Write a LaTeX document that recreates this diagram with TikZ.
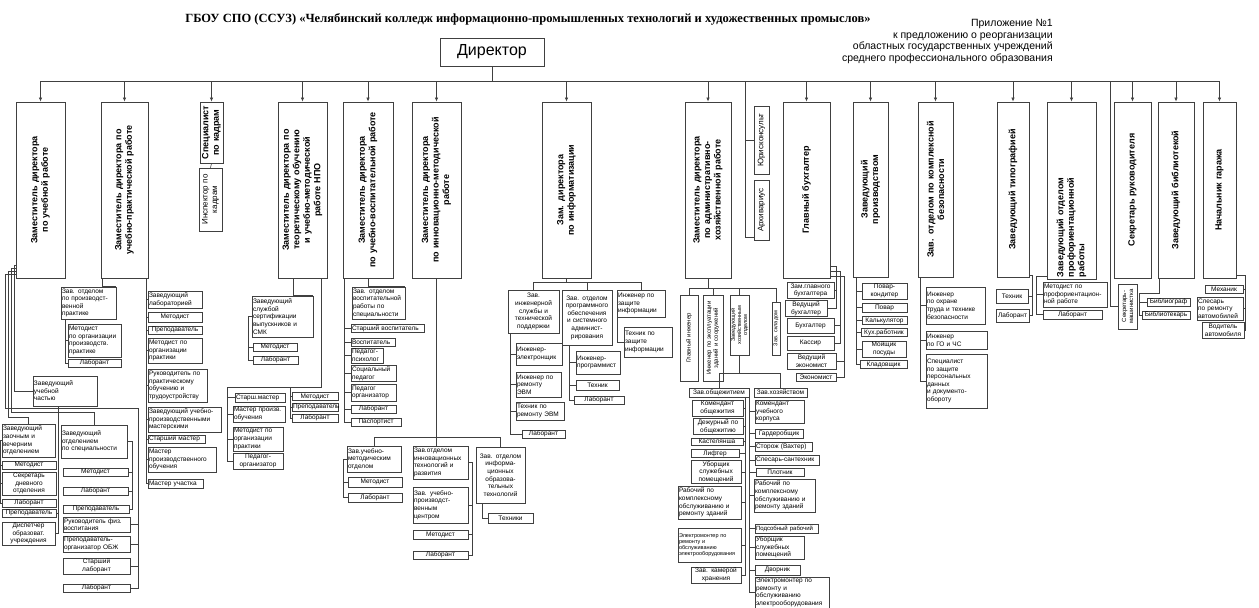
\documentclass[tikz,border=0pt]{standalone}
\usepackage{fontspec}
\setmainfont{Liberation Sans}
\newfontfamily\titlefont{Liberation Serif}
\usetikzlibrary{arrows.meta}

\tikzset{
    card/.style = {draw = black!75, inner sep = 1pt, align = center,
                   font = \fontsize{6.5}{7.6}\selectfont},
    lcard/.style = {align = left},
    topcard/.style = {line width = 0.9pt, font = \fontsize{9}{10.5}\selectfont\bfseries},
    sidecard/.style = {font = \fontsize{8}{9.5}\selectfont},
    smalltext/.style = {font = \fontsize{6}{7}\selectfont},
    tinytext/.style = {font = \fontsize{5.5}{6.2}\selectfont},
    link/.style = {draw = black!75},
    arrowdown/.style = {-{Latex[length = 4pt, width = 3.5pt]}},
}

% A box given by its corners (in pixels): name, x1, y1, x2, y2, text.
\newcommand{\hcard}[7][]{%
    \node[card, minimum width = {#5pt-#3pt}, minimum height = {#6pt-#4pt},
          text width = {#5pt-#3pt-2pt}, #1] (#2) at ({(#3+#5)/2}, {(#4+#6)/2}) {#7};}
% The same box with its text turned upright.
\newcommand{\vcard}[7][]{%
    \node[card, minimum width = {#5pt-#3pt}, minimum height = {#6pt-#4pt}, #1]
          (#2) at ({(#3+#5)/2}, {(#4+#6)/2}) {};
    \node[card, draw = none, rotate = 90, text width = {#6pt-#4pt-4pt}, #1]
          (#2-t) at (#2.center) {#7};}

\begin{document}
\begin{tikzpicture}[x = 1pt, y = -1pt, line width = 0.6pt]
    \useasboundingbox (0, 0) rectangle (1259, 608);

    % Heading and the note in the right corner.
    \node[font = \titlefont\bfseries\fontsize{12.5}{14}\selectfont] (title) at (528, 19)
        {ГБОУ СПО (ССУЗ) «Челябинский колледж информационно-промышленных технологий и художественных промыслов»};
    \node[anchor = north east, align = right, inner sep = 0pt,
          font = \fontsize{10.5}{11.7}\selectfont] (note) at (1053, 19)
        {Приложение №1\\к предложению о реорганизации\\областных государственных учреждений\\среднего профессионального образования};

    % Director.
    \node[draw = black!75, line width = 0.9pt, minimum width = 104pt, minimum height = 28pt,
          font = \fontsize{16}{18}\selectfont] (director) at (492, 52) {Директор};

    % First row of upright boxes.
    \vcard[topcard]{zamUch}{16}{102}{65}{278}{Заместитель директора\\по учебной работе}
    \vcard[topcard]{zamPrakt}{101}{102}{148}{278}{Заместитель директора по\\учебно-практической работе}
    \vcard[topcard]{kadry}{200}{102}{223}{163}{Специалист\\по кадрам}
    \vcard[sidecard]{inspKadry}{199}{168}{222}{231}{Инспектор по\\кадрам}
    \vcard[topcard]{zamNPO}{278}{102}{327}{278}{Заместитель директора по\\теоретическому обучению\\и учебно-методической\\работе НПО}
    \vcard[topcard]{zamVosp}{343}{102}{393}{278}{Заместитель директора\\по учебно-воспитательной работе}
    \vcard[topcard]{zamInnov}{412}{102}{461}{278}{Заместитель директора\\по инновационно-методической\\работе}
    \vcard[topcard]{zamInform}{542}{102}{591}{278}{Зам. директора\\по информатизации}
    \vcard[topcard]{zamAHR}{685}{102}{731}{278}{Заместитель директора\\по административно-\\хозяйственной работе}
    \vcard[sidecard]{yurist}{754}{106}{769}{174}{Юрисконсульт}
    \vcard[sidecard]{arhiv}{754}{180}{769}{240}{Архивариус}
    \vcard[topcard]{glBuh}{783}{102}{830}{278}{Главный бухгалтер}
    \vcard[topcard]{zavProizv}{853}{102}{888}{277}{Заведующий\\производством}
    \vcard[topcard]{zavBezop}{918}{102}{953}{277}{Зав. отделом по комплексной\\безопасности}
    \vcard[topcard]{zavTipogr}{997}{102}{1029}{277}{Заведующий типографией}
    \vcard[topcard, lcard]{zavProf}{1047}{102}{1096}{279}{Заведующий отделом\\профориентационной\\работы}
    \vcard[topcard]{sekrRuk}{1114}{102}{1151}{278}{Секретарь руководителя}
    \vcard[smalltext]{sekrMash}{1118}{284}{1137}{329}{Секретарь-\\машинистка}
    \vcard[topcard]{zavBibl}{1158}{102}{1194}{278}{Заведующий библиотекой}
    \vcard[topcard]{nachGar}{1203}{102}{1236}{278}{Начальник гаража}

    % Bus under the director and the arrows down.
    \draw[link] (director.south) -- ++(0, 15) coordinate (bus);
    \draw[link] (zamUch.north |- bus) -- (nachGar.north |- bus);
    \draw[link, arrowdown] (zamUch.north |- bus) -- (zamUch.north);
    \draw[link, arrowdown] (zamPrakt.north |- bus) -- (zamPrakt.north);
    \draw[link, arrowdown] (kadry.north |- bus) -- (kadry.north);
    \draw[link, arrowdown] (zamNPO.north |- bus) -- (zamNPO.north);
    \draw[link, arrowdown] (zamVosp.north |- bus) -- (zamVosp.north);
    \draw[link, arrowdown] (zamInnov.north |- bus) -- (zamInnov.north);
    \draw[link, arrowdown] (zamInform.north |- bus) -- (zamInform.north);
    \draw[link, arrowdown] (zamAHR.north |- bus) -- (zamAHR.north);
    \draw[link, arrowdown] (glBuh.north |- bus) -- (glBuh.north);
    \draw[link, arrowdown] (zavProizv.north |- bus) -- (zavProizv.north);
    \draw[link, arrowdown] (zavBezop.north |- bus) -- (zavBezop.north);
    \draw[link, arrowdown] (zavTipogr.north |- bus) -- (zavTipogr.north);
    \draw[link, arrowdown] (zavProf.north |- bus) -- (zavProf.north);
    \draw[link, arrowdown] (sekrRuk.north |- bus) -- (sekrRuk.north);
    \draw[link, arrowdown] (zavBibl.north |- bus) -- (zavBibl.north);
    \draw[link, arrowdown] (nachGar.north |- bus) -- (nachGar.north);

    % Plain branches off the bus.
    \coordinate (jur) at (745, 81);
    \coordinate (mash) at (1110, 81);
    \draw[link] (jur) |- ([yshift = 3pt]arhiv.south west);
    \draw[link] (jur |- yurist.west) -- (yurist.west);
    \draw[link] (mash) |- (sekrMash.west);
    \draw[link] (kadry.south) -- (inspKadry.north);

    % Teaching work.
    \hcard[lcard]{zavUchCh}{33}{376}{97}{406}{Заведующий\\учебной\\частью}
    \hcard[lcard]{zavZaoch}{2}{424}{55}{457}{Заведующий\\заочным и\\вечерним\\отделением}
    \hcard{metZaoch}{2}{461}{56}{469}{Методист}
    \hcard{sekrDn}{2}{472}{56}{495}{Секретарь\\дневного\\отделения}
    \hcard{labZaoch}{2}{499}{56}{507}{Лаборант}
    \hcard{prepZaoch}{2}{509}{56}{517}{Преподаватель}
    \hcard{dispetch}{2}{522}{55}{545}{Диспетчер\\образоват.\\учреждения}
    \hcard[lcard]{zavSpec}{61}{425}{127}{458}{Заведующий\\отделением\\по специальности}
    \hcard{metSpec}{63}{468}{128}{476}{Методист}
    \hcard{labSpec}{63}{487}{128}{495}{Лаборант}
    \hcard{prepSpec}{63}{505}{129}{513}{Преподаватель}
    \hcard[lcard]{rukFiz}{63}{517}{130}{532}{Руководитель физ.\\воспитания}
    \hcard[lcard]{prepObzh}{63}{536}{130}{552}{Преподаватель-\\организатор ОБЖ}
    \hcard{starLab}{63}{558}{130}{574}{Старший\\лаборант}
    \hcard{labObzh}{63}{584}{130}{592}{Лаборант}

    \draw[link] ([yshift = 13pt]zamUch.south west) -| ([xshift = -18pt]zavUchCh.west) -- (zavUchCh.west);
    \draw[link] ([yshift = 10pt]zamUch.south west) -| (11, 412) -| (zavSpec.north);
    \draw[link] ([yshift = 7pt]zamUch.south west) -| (8, 417) -| (zavZaoch.north);
    \draw[link] ([yshift = 4pt]zamUch.south west) -| (5, 408) -| ([xshift = 8pt]labObzh.east) -- (labObzh.east);
    \draw[link] (rukFiz.east) -- ++(8, 0) (prepObzh.east) -- ++(8, 0) (starLab.east) -- ++(8, 0);
    \draw[link] ([xshift = -7pt]zavUchCh.south) |- (dispetch.east) (prepZaoch.east) -- ++(2, 0);
    \draw[link] (zavZaoch.west) -- ++(-1.5, 0) |- (labZaoch.west)
        (metZaoch.west) -- ++(-1.5, 0) (sekrDn.west) -- ++(-1.5, 0);
    \draw[link] (zavSpec.east) -- ++(5, 0) |- (prepSpec.east)
        (metSpec.east) -- ++(4, 0) (labSpec.east) -- ++(4, 0);

    % Practical training.
    \hcard[lcard]{zavPraktOtd}{61}{287}{116}{319}{Зав. отделом\\по производст-\\венной\\практике}
    \hcard[lcard]{metPrakt}{68}{324}{121}{357}{Методист\\по организации\\производств.\\практике}
    \hcard{labPrakt}{68}{359}{121}{367}{Лаборант}
    \hcard[lcard]{zavLab}{148}{291}{202}{308}{Заведующий\\лабораторией}
    \hcard{metLab}{148}{312}{202}{322}{Методист}
    \hcard{prepLab}{148}{326}{202}{334}{Преподаватель}
    \hcard[lcard]{metOrgPr}{148}{338}{202}{363}{Методист по\\организации\\практики}
    \hcard[lcard]{rukPrakt}{148}{369}{207}{402}{Руководитель по\\практическому\\обучению и\\трудоустройству}
    \hcard[lcard]{zavMaster}{148}{407}{221}{432}{Заведующий учебно-\\производственными\\мастерскими}
    \hcard[lcard]{starMaster}{148}{435}{205}{443}{Старший мастер}
    \hcard[lcard]{masterPO}{148}{447}{216}{472}{Мастер\\производственного\\обучения}
    \hcard[lcard]{masterUch}{148}{479}{203}{488}{Мастер участка}

    \draw[link] (zamPrakt.south west) ++(2, 0) |- (zavPraktOtd.north east);
    \draw[link] (zavPraktOtd.south west) ++(5, 0) |- (labPrakt.west) (metPrakt.west) -- ++(-2, 0);
    \draw[link] (zamPrakt.south east) ++(-2, 0) |- (masterUch.west)
        (zavLab.west) -- ++(-2, 0) (metLab.west) -- ++(-2, 0) (prepLab.west) -- ++(-2, 0)
        (metOrgPr.west) -- ++(-2, 0) (rukPrakt.west) -- ++(-2, 0) (zavMaster.west) -- ++(-2, 0)
        (starMaster.west) -- ++(-2, 0) (masterPO.west) -- ++(-2, 0);

    % Theory and methods of NPO.
    \hcard[lcard]{zavSert}{252}{296}{313}{337}{Заведующий\\службой\\сертификации\\выпускников и\\СМК}
    \hcard{metSert}{253}{343}{297}{351}{Методист}
    \hcard{labSert}{253}{356}{298}{364}{Лаборант}
    \hcard[lcard]{starM}{235}{393}{285}{402}{Старш.мастер}
    \hcard[lcard]{masterPr}{233}{406}{285}{422}{Мастер произв.\\обучения}
    \hcard[lcard]{metOrg4}{233}{427}{283}{451}{Методист по\\организации\\практики}
    \hcard{pedOrg4}{233}{453}{283}{469}{Педагог-\\организатор}
    \hcard{met4}{292}{393}{338}{400}{Методист}
    \hcard{prep4}{292}{403}{338}{411}{Преподаватель}
    \hcard{lab4}{292}{414}{338}{422}{Лаборант}

    \draw[link] (zamNPO.south) ++(-9.5, 0) |- (zavSert.north east);
    \draw[link] (zavSert.west) -- ++(-3, 0) |- (labSert.west) (metSert.west) -- ++(-4, 0);
    \draw[link] (zamNPO.south) ++(18.5, 0) -- ++(0, 109) -| ([xshift = -5pt]pedOrg4.west) -- (pedOrg4.west);
    \draw[link] (starM.west) -- ++(-7, 0) (masterPr.west) -- ++(-5, 0) (metOrg4.west) -- ++(-5, 0);
    \draw[link] (290, 387) |- (lab4.west) (met4.west) -- ++(-2, 0) (prep4.west) -- ++(-2, 0);

    % Upbringing.
    \hcard[lcard]{zavVospOtd}{352}{287}{405}{319}{Зав. отделом\\воспитательной\\работы по\\специальности}
    \hcard[lcard]{starVosp}{351}{325}{424}{332}{Старший воспитатель}
    \hcard[lcard]{vosp}{351}{338}{395}{346}{Воспитатель}
    \hcard[lcard]{pedPsih}{351}{348}{383}{363}{Педагог-\\психолог}
    \hcard[lcard]{socPed}{351}{366}{396}{381}{Социальный\\педагог}
    \hcard[lcard]{pedOrg5}{351}{384}{396}{401}{Педагог\\организатор}
    \hcard{lab5}{351}{405}{396}{413}{Лаборант}
    \hcard{pasp}{351}{418}{401}{426}{Паспортист}

    \draw[link] (zamVosp.south) |- (zavVospOtd.north east);
    \draw[link] (zamVosp.south west) ++(2, 0) |- (pasp.west)
        (starVosp.west) -- ++(-6, 0) (vosp.west) -- ++(-6, 0) (pedPsih.west) -- ++(-6, 0)
        (socPed.west) -- ++(-6, 0) (pedOrg5.west) -- ++(-6, 0) (lab5.west) -- ++(-6, 0);

    % Innovation and methods.
    \hcard[lcard]{zavUMO}{347}{446}{401}{472}{Зав.учебно-\\методическим\\отделом}
    \hcard{metUMO}{348}{477}{402}{487}{Методист}
    \hcard{labUMO}{348}{493}{402}{502}{Лаборант}
    \hcard[lcard]{zavInnovOtd}{413}{446}{468}{479}{Зав.отделом\\инновационных\\технологий и\\развития}
    \hcard[lcard]{zavUPC}{413}{487}{468}{523}{Зав. учебно-\\производст-\\венным\\центром}
    \hcard{metUPC}{413}{530}{468}{539}{Методист}
    \hcard{labUPC}{413}{551}{468}{559}{Лаборант}
    \hcard{zavIOT}{476}{447}{525}{503}{Зав. отделом\\информа-\\ционных\\образова-\\тельных\\технологий}
    \hcard{tehIOT}{488}{513}{533}{523}{Техники}

    \draw[link] (zamInnov.south) -- ++(0, 159) coordinate (innov);
    \draw[link] (innov) -- (innov |- zavInnovOtd.north);
    \draw[link] (zavUMO.north) |- (innov) -| (zavIOT.north);
    \draw[link] (zavUMO.west) -- ++(-3, 0) |- (labUMO.west) (metUMO.west) -- ++(-4, 0);
    \draw[link] (zavInnovOtd.east) -- ++(4, 0) |- (labUPC.east)
        (zavUPC.east) -- ++(4, 0) (metUPC.east) -- ++(4, 0);
    \draw[link] (zavIOT.south west) ++(7, 0) |- (tehIOT.west);

    % Informatization.
    \hcard{zavIng}{508}{290}{559}{333}{Зав.\\инженерной\\службы и\\технической\\поддержки}
    \hcard{zavProg}{562}{290}{612}{345}{Зав. отделом\\программного\\обеспечения\\и системного\\админист-\\рирования}
    \hcard[lcard]{ingZI}{617}{290}{665}{317}{Инженер по\\защите\\информации}
    \hcard[lcard]{tehZI}{624}{327}{672}{357}{Техник по\\защите\\информации}
    \hcard[lcard]{ingEl}{516}{343}{562}{365}{Инженер-\\электронщик}
    \hcard[lcard]{ingEVM}{516}{372}{561}{397}{Инженер по\\ремонту\\ЭВМ}
    \hcard[lcard]{tehEVM}{516}{402}{564}{420}{Техник по\\ремонту ЭВМ}
    \hcard{lab7a}{522}{430}{565}{438}{Лаборант}
    \hcard[lcard]{ingProg}{576}{351}{620}{374}{Инженер-\\программист}
    \hcard{teh7}{576}{380}{619}{390}{Техник}
    \hcard{lab7b}{574}{396}{624}{404}{Лаборант}

    \draw[link] (zamInform.south) -- ++(0, 4) coordinate (inform);
    \draw[link] (zavIng.north) |- (inform) -| (ingZI.north);
    \draw[link] (inform -| zavProg.north) -- (zavProg.north);
    \draw[link] (ingZI.south west) ++(1, 0) |- (tehZI.west);
    \draw[link] (zavIng.south west) ++(3, 0) |- (lab7a.west)
        (ingEl.west) -- ++(-5, 0) (ingEVM.west) -- ++(-5, 0) (tehEVM.west) -- ++(-5, 0);
    \draw[link] (zavProg.south west) ++(8, 0) |- (lab7b.west)
        (ingProg.west) -- ++(-6, 0) (teh7.west) -- ++(-6, 0);

    % Administration and housekeeping.
    \vcard[smalltext]{glIng}{680}{295}{698}{381}{Главный инженер}
    \vcard[smalltext]{ingEkspl}{703}{295}{723}{381}{Инженер по эксплуатации\\зданий и сооружений}
    \vcard[tinytext]{zavHoz}{730}{295}{749}{355}{Заведующий\\хозяйственным\\отделом}
    \vcard[tinytext]{zavSklad}{772}{302}{780}{355}{Зав. складом}
    \hcard{zavObsh}{689}{388}{749}{397}{Зав.общежитием}
    \hcard{zavHozv}{754}{388}{807}{397}{Зав.хозяйством}
    \hcard{komObsh}{692}{400}{743}{416}{Комендант\\общежития}
    \hcard{dezh}{693}{419}{743}{434}{Дежурный по\\общежитию}
    \hcard{kastel}{691}{438}{743}{445}{Кастелянша}
    \hcard{lift}{691}{450}{739}{457}{Лифтер}
    \hcard{uborO}{691}{461}{741}{483}{Уборщик\\служебных\\помещений}
    \hcard[lcard]{rabO}{678}{486}{741}{519}{Рабочий по\\комплексному\\обслуживанию и\\ремонту зданий}
    \hcard[lcard, tinytext]{elO}{678}{528}{741}{562}{Электромонтер по\\ремонту и\\обслуживанию\\электрооборудования}
    \hcard{kamera}{691}{567}{741}{583}{Зав. камерой\\хранения}
    \hcard[lcard]{komUch}{755}{400}{804}{423}{Комендант\\учебного\\корпуса}
    \hcard{gard}{755}{429}{803}{438}{Гардеробщик}
    \hcard[lcard]{storozh}{755}{442}{812}{451}{Сторож (Вахтер)}
    \hcard[lcard]{slesar}{755}{455}{819}{465}{Слесарь-сантехник}
    \hcard{plot}{756}{468}{804}{476}{Плотник}
    \hcard[lcard]{rabH}{754}{479}{815}{512}{Рабочий по\\комплексному\\обслуживанию и\\ремонту зданий}
    \hcard[lcard, smalltext]{podsob}{755}{524}{818}{533}{Подсобный рабочий}
    \hcard[lcard]{uborH}{755}{536}{804}{559}{Уборщик\\служебных\\помещений}
    \hcard{dvor}{755}{565}{800}{575}{Дворник}
    \hcard[lcard]{elH}{755}{578}{829}{607}{Электромонтер по\\ремонту и\\обслуживанию\\электрооборудования}

    \draw[link] (zamAHR.south) -- ++(0, 10) coordinate (ahr);
    \draw[link] (glIng.north) |- (ahr) -| (zavSklad.north);
    \draw[link] (ahr -| ingEkspl.north) -- (ingEkspl.north);
    \draw[link] (ahr -| zavHoz.north) -- (zavHoz.north);
    \draw[link] (zavHoz.south) -- ++(0, 18) coordinate (hoz);
    \draw[link] (zavObsh.north) |- (hoz) -| (zavHozv.north);
    \draw[link] (zavObsh.south east) ++(-4, 0) |- (kamera.east)
        (komObsh.east) -- ++(2, 0) (dezh.east) -- ++(2, 0) (kastel.east) -- ++(2, 0)
        (lift.east) -- ++(6, 0) (uborO.east) -- ++(4, 0) (rabO.east) -- ++(4, 0) (elO.east) -- ++(4, 0);
    \draw[link] (zavHozv.south west) ++(-4, 0) |- (elH.west)
        (komUch.west) -- ++(-5, 0) (gard.west) -- ++(-5, 0) (storozh.west) -- ++(-5, 0)
        (slesar.west) -- ++(-5, 0) (plot.west) -- ++(-6, 0) (rabH.west) -- ++(-4, 0)
        (podsob.west) -- ++(-5, 0) (uborH.west) -- ++(-5, 0) (dvor.west) -- ++(-5, 0);

    % Accounts.
    \hcard{zamGlB}{787}{283}{834}{298}{Зам.главного\\бухгалтера}
    \hcard{vedB}{785}{301}{827}{316}{Ведущий\\бухгалтер}
    \hcard{buh}{787}{318}{834}{333}{Бухгалтер}
    \hcard{kassir}{787}{336}{834}{350}{Кассир}
    \hcard{vedEk}{787}{353}{836}{369}{Ведущий\\экономист}
    \hcard{ekon}{796}{373}{836}{381}{Экономист}

    \draw[link] ([yshift = 12pt]glBuh.south east) -- ++(6, 0) |- (vedB.east) (zamGlB.east) -- ++(2, 0);
    \draw[link] ([yshift = 7pt]glBuh.south east) -- ++(10, 0) |- (kassir.east) (buh.east) -- ++(6, 0);
    \draw[link] ([yshift = 2pt]glBuh.south east) -- ++(14, 0) |- (ekon.east) (vedEk.east) -- ++(8, 0);

    % Kitchen.
    \hcard{povK}{862}{283}{907}{299}{Повар-\\кондитер}
    \hcard{povar}{862}{303}{907}{312}{Повар}
    \hcard{kalk}{862}{317}{907}{324}{Калькулятор}
    \hcard{kuh}{861}{329}{907}{336}{Кух.работник}
    \hcard{moysh}{862}{341}{906}{357}{Мойщик\\посуды}
    \hcard{klad}{860}{361}{907}{368}{Кладовщик}

    \draw[link] (zavProizv.south west) ++(4, 0) |- (klad.west)
        (povK.west) -- ++(-5, 0) (povar.west) -- ++(-5, 0) (kalk.west) -- ++(-5, 0)
        (kuh.west) -- ++(-4, 0) (moysh.west) -- ++(-5, 0);

    % Safety.
    \hcard[lcard]{ingOT}{926}{287}{985}{324}{Инженер\\по охране\\труда и технике\\безопасности}
    \hcard[lcard]{ingGO}{926}{331}{987}{349}{Инженер\\по ГО и ЧС}
    \hcard[lcard]{specZ}{926}{354}{987}{408}{Специалист\\по защите\\персональных\\данных\\и документо-\\обороту}

    \draw[link] (zavBezop.south west) ++(3, 0) |- (specZ.west)
        (ingOT.west) -- ++(-5, 0) (ingGO.west) -- ++(-5, 0);

    % Printing, careers, library and garage.
    \hcard{tehTip}{996}{289}{1028}{303}{Техник}
    \hcard{labTip}{996}{309}{1029}{322}{Лаборант}
    \hcard[lcard]{metProf}{1043}{282}{1107}{307}{Методист по\\профориентацион-\\ной работе}
    \hcard{labProf}{1043}{310}{1102}{319}{Лаборант}
    \hcard{bibliogr}{1147}{298}{1190}{306}{Библиограф}
    \hcard{bibliot}{1142}{311}{1190}{319}{Библиотекарь}
    \hcard{meh}{1205}{285}{1243}{293}{Механик}
    \hcard[lcard]{slesA}{1197}{297}{1243}{320}{Слесарь\\по ремонту\\автомобилей}
    \hcard{vodit}{1202}{322}{1244}{338}{Водитель\\автомобиля}

    \draw[link] ([yshift = 2pt]zavTipogr.south east) -- ++(3, 0) |- (labTip.east) (tehTip.east) -- ++(4, 0);
    \draw[link] ([yshift = 3pt]zavProf.south west) -- ++(-10, 0) |- (labProf.west) (metProf.west) -- ++(-6, 0);
    \draw[link] (zavBibl.south west) ++(2, 0) |- ++(-20, 15) |- (bibliot.west) (bibliogr.west) -- ++(-7, 0);
    \draw[link] ([yshift = 3pt]nachGar.south east) -- ++(9, 0) |- (vodit.east)
        (meh.east) -- ++(2, 0) (slesA.east) -- ++(2, 0);
\end{tikzpicture}
\end{document}
